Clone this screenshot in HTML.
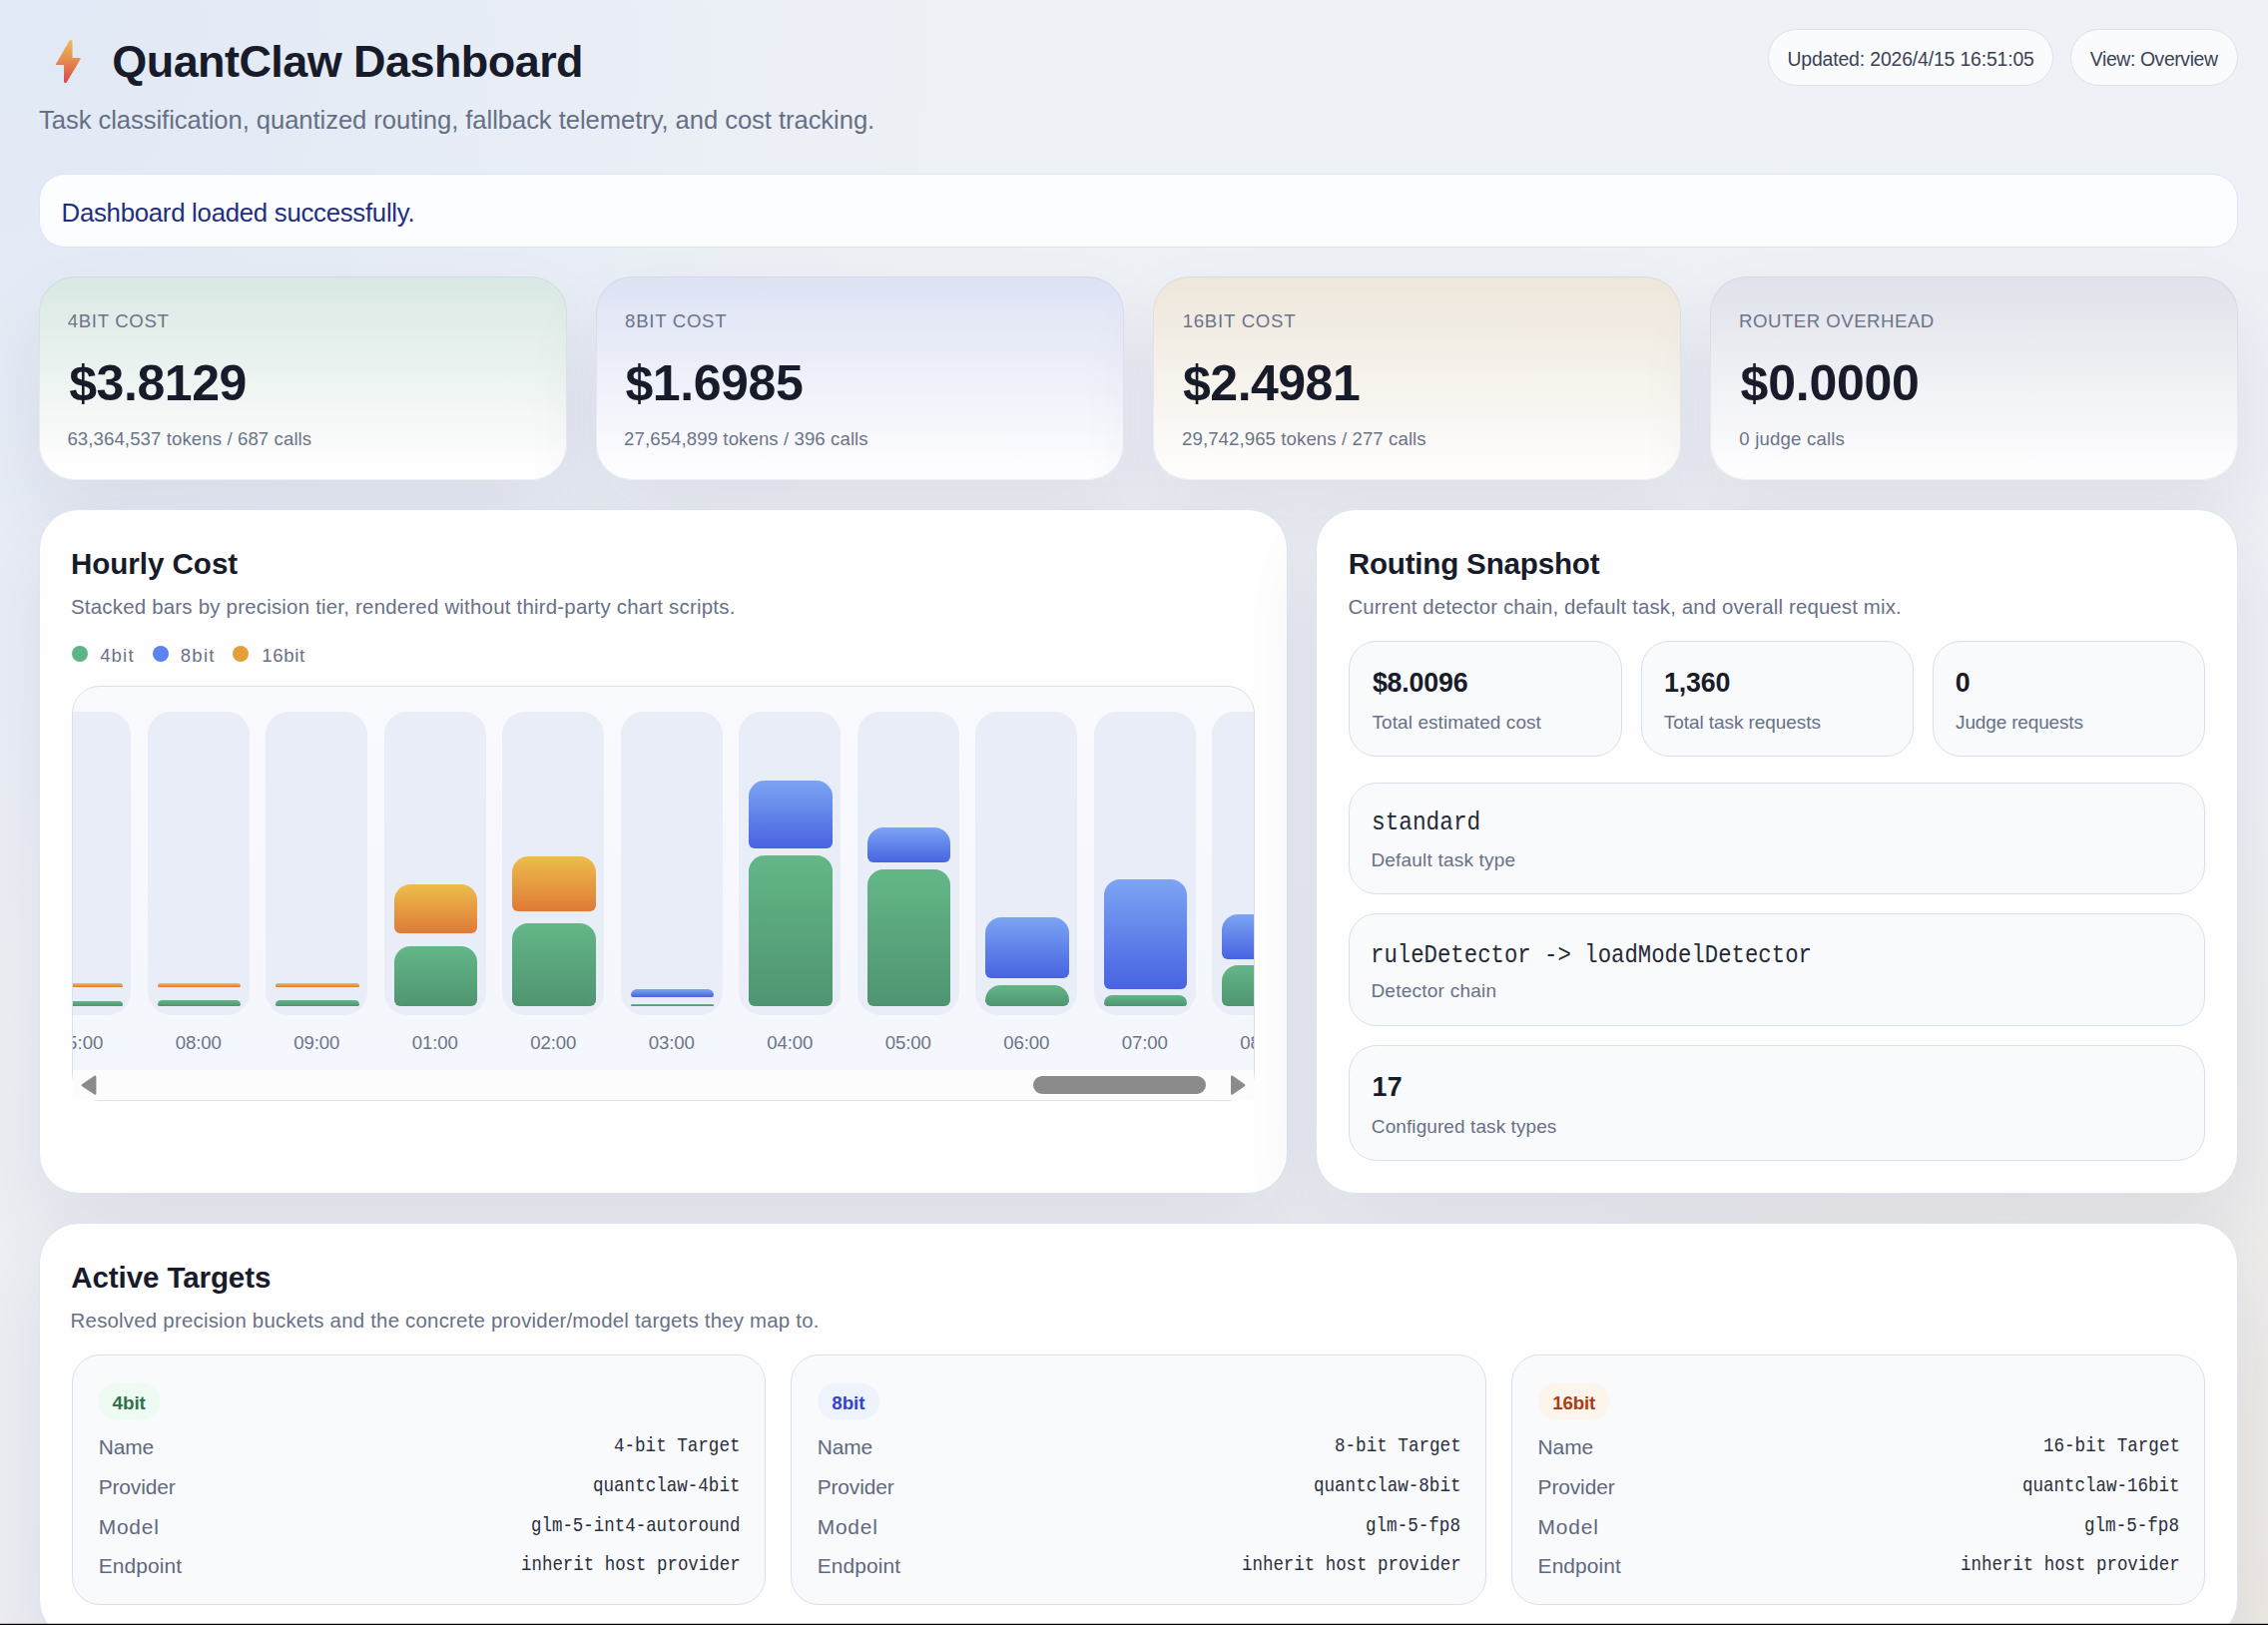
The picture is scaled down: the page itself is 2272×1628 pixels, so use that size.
<!DOCTYPE html>
<html lang="en"><head><meta charset="utf-8"><title>QuantClaw Dashboard</title>
<style>
*{box-sizing:border-box;margin:0;padding:0}
html,body{width:2272px;height:1628px;overflow:hidden}
body{position:relative;font-family:'Liberation Sans',sans-serif;background:
 radial-gradient(circle at 0 0,rgba(59,130,246,.075) 0,rgba(59,130,246,0) 960px),
 radial-gradient(circle at 100% 100%,rgba(245,158,11,.068) 0,rgba(245,158,11,0) 860px),
 linear-gradient(180deg,#eef1f6 0%,#ecEEf3 100%);}
.abs,.t,.pill,.notice,.stat,.panel,.dot,.chart,.sb,.thumb,.mini,.badge{position:absolute}
.t{white-space:pre;line-height:1;transform-origin:0 50%;font-style:normal}
.pill{background:#fafbfd;border:1px solid #dde1ea;border-radius:999px}
.notice{background:#fcfdff;border:1px solid #d9e5fa;border-radius:26px}
.stat{border:1px solid rgba(150,162,195,.15);background-origin:border-box;border-radius:36px;box-shadow:0 36px 80px rgba(22,32,84,.074)}
.panel{background:#fefeff;border:1px solid #dee4f0;border-radius:40px;box-shadow:0 36px 80px rgba(22,32,84,.074)}
.dot{width:16px;height:16px;border-radius:50%}
.chart{border:1px solid #d9dfec;border-radius:28px;background:linear-gradient(180deg,#f9fafe 0%,#f3f6fc 100%);overflow:hidden}
.chartin{position:absolute;left:0;top:0;width:1183.2px;height:383.5px;overflow:hidden}
.trk{position:absolute;top:25px;width:102px;height:303.8px;border-radius:23px;background:#e9edf7}
.bar{position:absolute;width:83.2px;border-radius:16px 16px 6px 6px/16px 16px 6px 6px}
.bar.g{background:linear-gradient(180deg,#63b787 0%,#4f9471 100%)}
.bar.b{background:linear-gradient(180deg,#7ca4f3 0%,#4863e2 100%)}
.bar.o{background:linear-gradient(180deg,#edbd4c 0%,#df7937 100%)}
.sb{background:#fcfcfd}
.thumb{background:#8b8b8b;border-radius:9px}
.mini{background:#f8fafc;border:1px solid #d9dfec;border-radius:28px}
.badge{border-radius:999px}
@media (max-width:1400px){html{zoom:.5}}
.bl{position:absolute;left:0;top:1626px;width:2272px;height:2px;background:linear-gradient(180deg,rgba(0,0,0,.22) 0,rgba(0,0,0,.22) 50%,#000 50%,#000 100%)}
</style></head>
<body>
<main>
<header>
<div class="pill" style="left:1771.2px;top:29.2px;width:286.2px;height:56.4px;"></div>
<div class="pill" style="left:2074.3px;top:29.2px;width:167.3px;height:56.4px;"></div>
<svg class="abs" style="left:50px;top:34px" width="40" height="56" viewBox="50 34 40 56"><defs><linearGradient id="bg" x1="0" y1="0" x2="0" y2="1"><stop offset="0" stop-color="#edb85a"/><stop offset="0.45" stop-color="#e68d4f"/><stop offset="1" stop-color="#d84a4b"/></linearGradient></defs><path d="M70.2 40.8 L71.9 40.9 L71.9 58.6 L80.2 58.6 L66.1 82.4 L64.6 82.1 L64.7 64.4 L56.6 64.4 Z" fill="url(#bg)" stroke="url(#bg)" stroke-width="1.2" stroke-linejoin="round"/></svg>
<h1 class="t" style="left:112.29px;top:39px;font-size:45px;color:#181c2a;font-weight:700;letter-spacing:-0.571px;">QuantClaw Dashboard</h1>
<p class="t" style="left:38.99px;top:108px;font-size:25.6px;color:#667085;font-weight:400;letter-spacing:-0.058px;">Task classification, quantized routing, fallback telemetry, and cost tracking.</p>
<span class="t" style="left:1790.47px;top:50px;font-size:19.4px;color:#3a4256;font-weight:400;letter-spacing:-0.146px;">Updated: 2026/4/15 16:51:05</span>
<span class="t" style="left:2093.87px;top:50px;font-size:19.4px;color:#3a4256;font-weight:400;letter-spacing:-0.397px;">View: Overview</span>
</header>
<section aria-label="Status">
<div class="notice" style="left:39.0px;top:174.0px;width:2203.0px;height:74.0px;"></div>
<span class="t" style="left:61.59px;top:201px;font-size:25.8px;color:#1f2f7e;font-weight:400;letter-spacing:-0.283px;">Dashboard loaded successfully.</span>
</section>
<section aria-label="Cost summary">
<div class="stat" style="left:39.3px;top:277.0px;width:528.8px;height:204.0px;background-image:linear-gradient(180deg,#d9e8e3 0%,#fefefe 94%);"></div>
<div class="stat" style="left:597.2px;top:277.0px;width:528.8px;height:204.0px;background-image:linear-gradient(180deg,#dde2f4 0%,#fdfdff 94%);"></div>
<div class="stat" style="left:1155.1px;top:277.0px;width:528.8px;height:204.0px;background-image:linear-gradient(180deg,#ede6da 0%,#fefdfc 94%);"></div>
<div class="stat" style="left:1713.0px;top:277.0px;width:528.8px;height:204.0px;background-image:linear-gradient(180deg,#dfe2ea 0%,#fdfdfe 94%);"></div>
<span class="t" style="left:67.73px;top:313px;font-size:18.6px;color:#6b7489;font-weight:400;letter-spacing:0.682px;">4BIT COST</span>
<span class="t" style="left:626.10px;top:313px;font-size:18.6px;color:#6b7489;font-weight:400;letter-spacing:0.711px;">8BIT COST</span>
<span class="t" style="left:1184.63px;top:313px;font-size:18.6px;color:#6b7489;font-weight:400;letter-spacing:0.769px;">16BIT COST</span>
<span class="t" style="left:1742.03px;top:313px;font-size:18.6px;color:#6b7489;font-weight:400;letter-spacing:0.514px;">ROUTER OVERHEAD</span>
<strong class="t" style="left:69.19px;top:359px;font-size:50px;color:#181c2a;font-weight:700;letter-spacing:-0.418px;">$3.8129</strong>
<strong class="t" style="left:626.39px;top:359px;font-size:50px;color:#181c2a;font-weight:700;letter-spacing:-0.395px;">$1.6985</strong>
<strong class="t" style="left:1185.09px;top:359px;font-size:50px;color:#181c2a;font-weight:700;letter-spacing:-0.518px;">$2.4981</strong>
<strong class="t" style="left:1743.59px;top:359px;font-size:50px;color:#181c2a;font-weight:700;letter-spacing:-0.234px;">$0.0000</strong>
<span class="t" style="left:67.38px;top:431px;font-size:18.6px;color:#6b7489;font-weight:400;letter-spacing:0.103px;">63,364,537 tokens / 687 calls</span>
<span class="t" style="left:625.11px;top:431px;font-size:18.6px;color:#6b7489;font-weight:400;letter-spacing:0.094px;">27,654,899 tokens / 396 calls</span>
<span class="t" style="left:1184.01px;top:431px;font-size:18.6px;color:#6b7489;font-weight:400;letter-spacing:0.098px;">29,742,965 tokens / 277 calls</span>
<span class="t" style="left:1742.27px;top:431px;font-size:18.6px;color:#6b7489;font-weight:400;letter-spacing:0.189px;">0 judge calls</span>
</section>
<section aria-label="Hourly Cost">
<div class="panel" style="left:39.0px;top:510.0px;width:1250.7px;height:686.0px;"></div>
<div class="dot" style="left:72px;top:647.2px;background:#5cb585"></div>
<div class="dot" style="left:152.9px;top:647.2px;background:#5b82ee"></div>
<div class="dot" style="left:232.9px;top:647.2px;background:#e3a03a"></div>
<div class="chart" style="left:72px;top:687px;width:1185.2px;height:416px"><div class="chartin"><div class="trk" style="left:-43.6px"></div><div class="bar g" style="left:-33.6px;top:314.6px;height:5.4px"></div><div class="bar o" style="left:-33.6px;top:297.2px;height:4.2px"></div><div class="trk" style="left:74.9px"></div><div class="bar g" style="left:84.9px;top:314.0px;height:6.0px"></div><div class="bar o" style="left:84.9px;top:297.0px;height:4.2px"></div><div class="trk" style="left:193.4px"></div><div class="bar g" style="left:203.4px;top:314.0px;height:6.0px"></div><div class="bar o" style="left:203.4px;top:297.0px;height:4.2px"></div><div class="trk" style="left:311.9px"></div><div class="bar g" style="left:321.9px;top:260.0px;height:60.0px"></div><div class="bar o" style="left:321.9px;top:197.8px;height:49.1px"></div><div class="trk" style="left:430.4px"></div><div class="bar g" style="left:440.4px;top:237.0px;height:83.0px"></div><div class="bar o" style="left:440.4px;top:169.9px;height:54.8px"></div><div class="trk" style="left:548.9px"></div><div class="bar g" style="left:558.9px;top:317.8px;height:2.2px"></div><div class="bar b" style="left:558.9px;top:302.8px;height:8.0px"></div><div class="trk" style="left:667.4px"></div><div class="bar g" style="left:677.4px;top:169.0px;height:151.0px"></div><div class="bar b" style="left:677.4px;top:94.1px;height:67.7px"></div><div class="trk" style="left:785.9px"></div><div class="bar g" style="left:795.9px;top:183.2px;height:136.8px"></div><div class="bar b" style="left:795.9px;top:141.2px;height:34.4px"></div><div class="trk" style="left:904.4px"></div><div class="bar g" style="left:914.4px;top:298.9px;height:21.1px"></div><div class="bar b" style="left:914.4px;top:230.8px;height:61.6px"></div><div class="trk" style="left:1022.9px"></div><div class="bar g" style="left:1032.9px;top:309.0px;height:11.0px"></div><div class="bar b" style="left:1032.9px;top:193.3px;height:109.3px"></div><div class="trk" style="left:1141.4px"></div><div class="bar g" style="left:1151.4px;top:278.9px;height:41.1px"></div><div class="bar b" style="left:1151.4px;top:227.5px;height:45.0px"></div><span class="t" style="left:-16.37px;top:348px;font-size:18.6px;color:#6b7489;font-weight:400;letter-spacing:0.056px;">15:00</span><span class="t" style="left:102.87px;top:348px;font-size:18.6px;color:#6b7489;font-weight:400;letter-spacing:-0.127px;">08:00</span><span class="t" style="left:221.37px;top:348px;font-size:18.6px;color:#6b7489;font-weight:400;letter-spacing:-0.127px;">09:00</span><span class="t" style="left:339.87px;top:348px;font-size:18.6px;color:#6b7489;font-weight:400;letter-spacing:-0.127px;">01:00</span><span class="t" style="left:458.37px;top:348px;font-size:18.6px;color:#6b7489;font-weight:400;letter-spacing:-0.127px;">02:00</span><span class="t" style="left:576.87px;top:348px;font-size:18.6px;color:#6b7489;font-weight:400;letter-spacing:-0.127px;">03:00</span><span class="t" style="left:695.37px;top:348px;font-size:18.6px;color:#6b7489;font-weight:400;letter-spacing:-0.127px;">04:00</span><span class="t" style="left:813.87px;top:348px;font-size:18.6px;color:#6b7489;font-weight:400;letter-spacing:-0.127px;">05:00</span><span class="t" style="left:932.37px;top:348px;font-size:18.6px;color:#6b7489;font-weight:400;letter-spacing:-0.127px;">06:00</span><span class="t" style="left:1050.87px;top:348px;font-size:18.6px;color:#6b7489;font-weight:400;letter-spacing:-0.127px;">07:00</span><span class="t" style="left:1169.37px;top:348px;font-size:18.6px;color:#6b7489;font-weight:400;letter-spacing:-0.127px;">08:00</span></div></div>
<div class="sb" style="left:73px;top:1071.5px;width:1183.2px;height:30.3px"></div>
<svg class="abs" style="left:80px;top:1076px" width="20" height="23" viewBox="0 0 20 23"><path d="M15.2 2.8 L2.8 11.2 L15.2 19.6 Z" fill="#8b8b8b" stroke="#8b8b8b" stroke-width="2.4" stroke-linejoin="round"/></svg>
<svg class="abs" style="left:1230px;top:1076px" width="20" height="23" viewBox="0 0 20 23"><path d="M4.2 2.8 L16.2 11.2 L4.2 19.6 Z" fill="#8b8b8b" stroke="#8b8b8b" stroke-width="2.4" stroke-linejoin="round"/></svg>
<div class="thumb" style="left:1034.9px;top:1078.2px;width:173.1px;height:17.7px;"></div>
<h2 class="t" style="left:70.98px;top:550px;font-size:29.6px;color:#181c2a;font-weight:700;letter-spacing:-0.054px;">Hourly Cost</h2>
<p class="t" style="left:71.02px;top:598px;font-size:20.4px;color:#687186;font-weight:400;letter-spacing:0.230px;">Stacked bars by precision tier, rendered without third-party chart scripts.</p>
<span class="t" style="left:100.13px;top:648px;font-size:18.6px;color:#687186;font-weight:400;letter-spacing:1.148px;">4bit</span>
<span class="t" style="left:180.70px;top:648px;font-size:18.6px;color:#687186;font-weight:400;letter-spacing:1.259px;">8bit</span>
<span class="t" style="left:262.33px;top:648px;font-size:18.6px;color:#687186;font-weight:400;letter-spacing:0.636px;">16bit</span>
</section>
<section aria-label="Routing Snapshot">
<div class="panel" style="left:1318.4px;top:510.0px;width:923.6px;height:686.0px;"></div>
<div class="mini" style="left:1351.2px;top:642.0px;width:273.5px;height:116.0px;"></div>
<div class="mini" style="left:1644.3px;top:642.0px;width:272.5px;height:116.0px;"></div>
<div class="mini" style="left:1936.4px;top:642.0px;width:272.3px;height:116.0px;"></div>
<div class="mini" style="left:1351.2px;top:784.0px;width:857.5px;height:111.6px;"></div>
<div class="mini" style="left:1351.2px;top:915.0px;width:857.5px;height:113.0px;"></div>
<div class="mini" style="left:1351.2px;top:1047.0px;width:857.5px;height:116.0px;"></div>
<h2 class="t" style="left:1350.78px;top:550px;font-size:29.6px;color:#181c2a;font-weight:700;letter-spacing:-0.204px;">Routing Snapshot</h2>
<p class="t" style="left:1350.42px;top:598px;font-size:20.4px;color:#687186;font-weight:400;letter-spacing:0.149px;">Current detector chain, default task, and overall request mix.</p>
<strong class="t" style="left:1374.92px;top:671px;font-size:26.8px;color:#181c2a;font-weight:700;letter-spacing:-0.185px;">$8.0096</strong>
<strong class="t" style="left:1666.91px;top:671px;font-size:26.8px;color:#181c2a;font-weight:700;letter-spacing:-0.124px;">1,360</strong>
<strong class="t" style="left:1958.72px;top:671px;font-size:26.8px;color:#181c2a;font-weight:700;">0</strong>
<span class="t" style="left:1374.53px;top:714px;font-size:19px;color:#687186;font-weight:400;letter-spacing:0.077px;">Total estimated cost</span>
<span class="t" style="left:1666.83px;top:714px;font-size:19px;color:#687186;font-weight:400;letter-spacing:-0.069px;">Total task requests</span>
<span class="t" style="left:1959.12px;top:714px;font-size:19px;color:#687186;font-weight:400;letter-spacing:-0.162px;">Judge requests</span>
<code class="t" style="left:1374.16px;top:811px;font-size:26.5px;color:#262a37;font-weight:400;font-family:'Liberation Mono', monospace;transform:scaleX(0.8584);">standard</code>
<span class="t" style="left:1373.40px;top:852px;font-size:19px;color:#687186;font-weight:400;letter-spacing:0.197px;">Default task type</span>
<code class="t" style="left:1372.71px;top:944px;font-size:26.5px;color:#262a37;font-weight:400;font-family:'Liberation Mono', monospace;transform:scaleX(0.8421);">ruleDetector -&gt; loadModelDetector</code>
<span class="t" style="left:1373.40px;top:983px;font-size:19px;color:#687186;font-weight:400;letter-spacing:0.244px;">Detector chain</span>
<strong class="t" style="left:1374.61px;top:1076px;font-size:26.8px;color:#181c2a;font-weight:700;letter-spacing:0.133px;">17</strong>
<span class="t" style="left:1373.87px;top:1119px;font-size:19px;color:#687186;font-weight:400;letter-spacing:0.087px;">Configured task types</span>
</section>
<section aria-label="Active Targets">
<div class="panel" style="left:39.0px;top:1225.0px;width:2203.0px;height:418.0px;"></div>
<div class="mini" style="left:72.1px;top:1357.0px;width:694.8px;height:251.0px;"></div>
<div class="mini" style="left:792.1px;top:1357.0px;width:696.9px;height:251.0px;"></div>
<div class="mini" style="left:1514.0px;top:1357.0px;width:694.8px;height:251.0px;"></div>
<div class="badge" style="left:98.1px;top:1385.8px;width:61.8px;height:36.3px;background:#eefbf3;"></div>
<div class="badge" style="left:819.0px;top:1385.8px;width:62.0px;height:36.3px;background:#eff3fe;"></div>
<div class="badge" style="left:1540.9px;top:1385.8px;width:72.1px;height:36.3px;background:#fcf5ec;"></div>
<h2 class="t" style="left:71.21px;top:1265px;font-size:29.6px;color:#181c2a;font-weight:700;letter-spacing:-0.119px;">Active Targets</h2>
<p class="t" style="left:70.62px;top:1313px;font-size:20.4px;color:#687186;font-weight:400;letter-spacing:0.226px;">Resolved precision buckets and the concrete provider/model targets they map to.</p>
<strong class="t" style="left:112.55px;top:1397px;font-size:18.8px;color:#32704f;font-weight:700;letter-spacing:-0.023px;">4bit</strong>
<span class="t" style="left:98.68px;top:1440px;font-size:20.9px;color:#5f687e;font-weight:400;letter-spacing:-0.060px;">Name</span>
<code class="t" style="left:615.38px;top:1439px;font-size:20.8px;color:#2a2e3b;font-weight:400;font-family:'Liberation Mono', monospace;transform:scaleX(0.8445);">4-bit Target</code>
<span class="t" style="left:98.68px;top:1480px;font-size:20.9px;color:#5f687e;font-weight:400;letter-spacing:-0.104px;">Provider</span>
<code class="t" style="left:594.38px;top:1479px;font-size:20.8px;color:#2a2e3b;font-weight:400;font-family:'Liberation Mono', monospace;transform:scaleX(0.8439);">quantclaw-4bit</code>
<span class="t" style="left:98.68px;top:1520px;font-size:20.9px;color:#5f687e;font-weight:400;letter-spacing:0.834px;">Model</span>
<code class="t" style="left:532.14px;top:1519px;font-size:20.8px;color:#2a2e3b;font-weight:400;font-family:'Liberation Mono', monospace;transform:scaleX(0.8388);">glm-5-int4-autoround</code>
<span class="t" style="left:98.68px;top:1559px;font-size:20.9px;color:#5f687e;font-weight:400;letter-spacing:0.115px;">Endpoint</span>
<code class="t" style="left:521.77px;top:1558px;font-size:20.8px;color:#2a2e3b;font-weight:400;font-family:'Liberation Mono', monospace;transform:scaleX(0.8381);">inherit host provider</code>
<strong class="t" style="left:833.34px;top:1397px;font-size:18.8px;color:#3246c8;font-weight:700;letter-spacing:-0.085px;">8bit</strong>
<span class="t" style="left:818.68px;top:1440px;font-size:20.9px;color:#5f687e;font-weight:400;letter-spacing:-0.060px;">Name</span>
<code class="t" style="left:1337.24px;top:1439px;font-size:20.8px;color:#2a2e3b;font-weight:400;font-family:'Liberation Mono', monospace;transform:scaleX(0.8462);">8-bit Target</code>
<span class="t" style="left:818.68px;top:1480px;font-size:20.9px;color:#5f687e;font-weight:400;letter-spacing:-0.104px;">Provider</span>
<code class="t" style="left:1316.48px;top:1479px;font-size:20.8px;color:#2a2e3b;font-weight:400;font-family:'Liberation Mono', monospace;transform:scaleX(0.8439);">quantclaw-8bit</code>
<span class="t" style="left:818.68px;top:1520px;font-size:20.9px;color:#5f687e;font-weight:400;letter-spacing:0.834px;">Model</span>
<code class="t" style="left:1368.30px;top:1519px;font-size:20.8px;color:#2a2e3b;font-weight:400;font-family:'Liberation Mono', monospace;transform:scaleX(0.8453);">glm-5-fp8</code>
<span class="t" style="left:818.68px;top:1559px;font-size:20.9px;color:#5f687e;font-weight:400;letter-spacing:0.115px;">Endpoint</span>
<code class="t" style="left:1243.87px;top:1558px;font-size:20.8px;color:#2a2e3b;font-weight:400;font-family:'Liberation Mono', monospace;transform:scaleX(0.8381);">inherit host provider</code>
<strong class="t" style="left:1555.23px;top:1397px;font-size:18.8px;color:#a83e16;font-weight:700;letter-spacing:-0.185px;">16bit</strong>
<span class="t" style="left:1540.58px;top:1440px;font-size:20.9px;color:#5f687e;font-weight:400;letter-spacing:-0.060px;">Name</span>
<code class="t" style="left:2046.60px;top:1439px;font-size:20.8px;color:#2a2e3b;font-weight:400;font-family:'Liberation Mono', monospace;transform:scaleX(0.8442);">16-bit Target</code>
<span class="t" style="left:1540.58px;top:1480px;font-size:20.9px;color:#5f687e;font-weight:400;letter-spacing:-0.104px;">Provider</span>
<code class="t" style="left:2025.92px;top:1479px;font-size:20.8px;color:#2a2e3b;font-weight:400;font-family:'Liberation Mono', monospace;transform:scaleX(0.8419);">quantclaw-16bit</code>
<span class="t" style="left:1540.58px;top:1520px;font-size:20.9px;color:#5f687e;font-weight:400;letter-spacing:0.834px;">Model</span>
<code class="t" style="left:2088.10px;top:1519px;font-size:20.8px;color:#2a2e3b;font-weight:400;font-family:'Liberation Mono', monospace;transform:scaleX(0.8453);">glm-5-fp8</code>
<span class="t" style="left:1540.58px;top:1559px;font-size:20.9px;color:#5f687e;font-weight:400;letter-spacing:0.115px;">Endpoint</span>
<code class="t" style="left:1963.67px;top:1558px;font-size:20.8px;color:#2a2e3b;font-weight:400;font-family:'Liberation Mono', monospace;transform:scaleX(0.8381);">inherit host provider</code>
</section>
</main>
<div class="bl"></div>
</body></html>
